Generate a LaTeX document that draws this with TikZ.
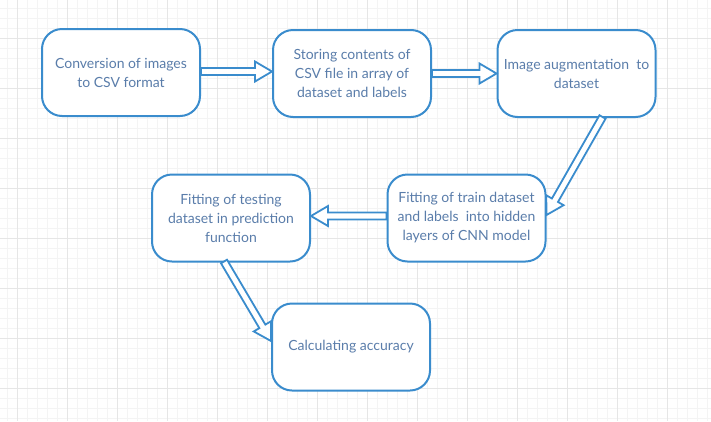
\documentclass[tikz,border=0pt]{standalone}
\usepackage{fontspec}
\setmainfont{Lato}
\usetikzlibrary{calc}
\definecolor{boxblue}{HTML}{3A8CCD}
\definecolor{txtblue}{HTML}{5A7DAA}
\definecolor{gridminor}{HTML}{F4F4F4}
\definecolor{gridmajor}{HTML}{E6E6E6}
\tikzset{
  stepbox/.style={draw=boxblue, line width=2pt, fill=white, rounded corners=20pt,
    minimum width=158pt, minimum height=87pt, inner sep=0pt, align=center,
    text=txtblue, font=\fontsize{14}{19}\selectfont},
  arrowline/.style={draw=boxblue, line width=1.8pt, fill=white, line join=miter},
}
\newcommand\hollowarrow[2]{%
  \draw[arrowline]
    ($(#1)!3.5pt!90:(#2)$) --
    ($($(#2)!17pt!(#1)$)!3.5pt!-90:(#1)$) --
    ($($(#2)!17pt!(#1)$)!10pt!-90:(#1)$) --
    (#2) --
    ($($(#2)!17pt!(#1)$)!10pt!90:(#1)$) --
    ($($(#2)!17pt!(#1)$)!3.5pt!90:(#1)$) --
    ($(#1)!3.5pt!-90:(#2)$) -- cycle;}
\begin{document}
\begin{tikzpicture}[x=1pt,y=-1pt]
\useasboundingbox (0,0) rectangle (711,421);
\fill[white] (0,0) rectangle (711,421);
% grid
\foreach \x in {7,17,...,707} \draw[gridminor, line width=0.5pt] (\x,0) -- (\x,421);
\foreach \y in {8,18,...,418} \draw[gridminor, line width=0.5pt] (0,\y) -- (711,\y);
\foreach \x in {17,67,...,667} \draw[gridmajor, line width=0.7pt] (\x,0) -- (\x,421);
\foreach \y in {38,88,...,388} \draw[gridmajor, line width=0.7pt] (0,\y) -- (711,\y);
% boxes
\node[stepbox] (b1) at (121,72.5) {Conversion of images\\to CSV format};
\node[stepbox] (b2) at (352,73.5) {Storing contents of\\CSV file in array of\\dataset and labels};
\node[stepbox] (b3) at (576.5,73.5) {Image augmentation\ \ to\\dataset};
\node[stepbox] (b4) at (466.5,218) {Fitting of train dataset\\and labels\ \ into hidden\\layers of CNN model};
\node[stepbox] (b5) at (231,218) {Fitting of testing\\dataset in prediction\\function};
\node[stepbox] (b6) at (351,347) {Calculating accuracy};
% connector endpoints
\coordinate (a1s) at ($(b1.east)+(0,-1)$);
\coordinate (a1e) at (b2.west |- a1s);
\coordinate (a2s) at (b2.east);
\coordinate (a2e) at (b3.west |- a2s);
\coordinate (a3s) at ($(b3.south)+(26,-1)$);
\coordinate (a3e) at ($(b4.east)+(0,-3)$);
\coordinate (a4s) at ($(b4.west)+(0,-2)$);
\coordinate (a4e) at (b5.east |- a4s);
\coordinate (a5s) at ($(b5.south)+(-7,-1)$);
\coordinate (a5e) at ($(b6.west)+(0,-6)$);
\hollowarrow{a1s}{a1e}
\hollowarrow{a2s}{a2e}
\hollowarrow{a3s}{a3e}
\hollowarrow{a4s}{a4e}
\hollowarrow{a5s}{a5e}
\end{tikzpicture}
\end{document}
